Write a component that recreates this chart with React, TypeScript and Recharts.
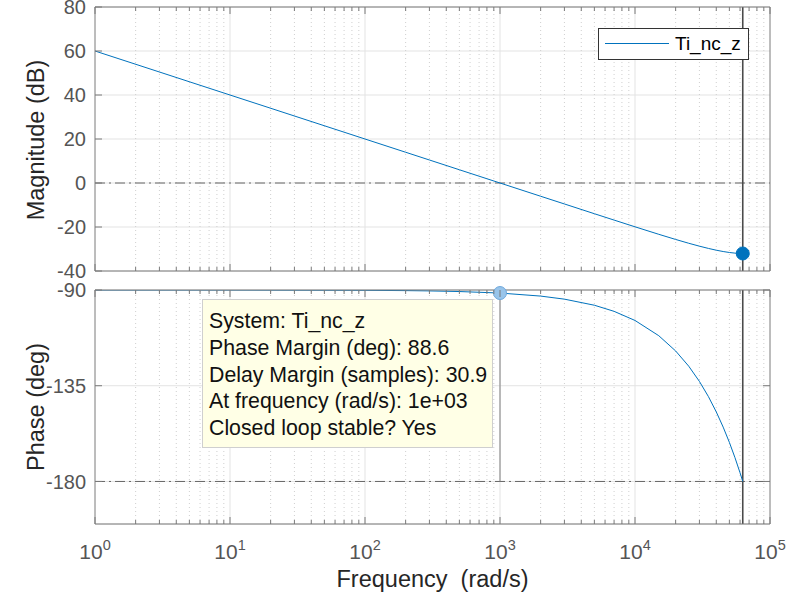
import React from 'react';
import { LineChart, Line, XAxis, YAxis, CartesianGrid, ReferenceLine, ReferenceDot } from 'recharts';

// Frequency (rad/s)
const frequencies = [1, 10, 100, 200, 300, 500, 1000, 2000, 3000, 5000, 7000, 10000, 15000, 20000, 25000, 30000, 35000, 40000, 45000, 50000, 55000, 60000, 62832];
// Magnitude (dB)
const magnitudeDb = [60, 40, 20, 13.98, 10.46, 6.02, 0, -6.02, -9.53, -13.96, -16.86, -19.91, -23.32, -25.66, -27.39, -28.71, -29.74, -30.54, -31.15, -31.59, -31.87, -32.02, -32.04];
// Phase (deg)
const phaseDeg = [-90.0, -90.01, -90.14, -90.29, -90.43, -90.72, -91.43, -92.86, -94.3, -97.16, -100.03, -104.32, -111.49, -118.65, -125.81, -132.97, -140.13, -147.3, -154.46, -161.62, -168.78, -175.94, -180];

const majorXTicks = [1, 10, 100, 1000, 10000, 100000];
const decades = [1, 10, 100, 1000, 10000];
const minorXTicks: number[] = [];
decades.forEach((d) => {
  for (let m = 2; m <= 9; m++) minorXTicks.push(m * d);
});
const allXTicks = [...majorXTicks, ...minorXTicks].sort((a, b) => a - b);

const magTicks = [-40, -20, 0, 20, 40, 60, 80];
const phaseTicks = [-180, -135, -90];

const nyquist = 62832;
const pmFreq = 1000;
const pmPhase = -91.43;
const nyqMag = -32.04;

const legendLabel = 'Ti_nc_z';
const tipLines = [
  'System: Ti_nc_z',
  'Phase Margin (deg): 88.6',
  'Delay Margin (samples): 30.9',
  'At frequency (rad/s): 1e+03',
  'Closed loop stable? Yes',
];

const data = frequencies.map((f, i) => ({ f, mag: magnitudeDb[i], phase: phaseDeg[i] }));

const FONT = '"Liberation Sans", Arial, Helvetica, sans-serif';
const AXIS = '#7a7a7a';
const TICKTXT = '#555555';
const BLUE = '#0072BD';

const isMajor = (v: number) => Math.abs(Math.log10(v) - Math.round(Math.log10(v))) < 1e-9;

const BottomTick = (props: any) => {
  const { x, y, payload, showLabel } = props;
  const v = payload.value;
  const major = isMajor(v);
  const len = major ? 7 : 4;
  return (
    <g>
      <line x1={x} y1={y} x2={x} y2={y - len} stroke={AXIS} strokeWidth={1} />
      {showLabel && major ? (
        <text x={x} y={y + 35} textAnchor="middle" fill={TICKTXT} fontSize={21} fontFamily={FONT}>
          <tspan>10</tspan>
          <tspan dy={-9} fontSize={14.5}>{Math.round(Math.log10(v))}</tspan>
        </text>
      ) : null}
    </g>
  );
};

const TopTick = (props: any) => {
  const { x, y, payload } = props;
  const len = isMajor(payload.value) ? 7 : 4;
  return <line x1={x} y1={y} x2={x} y2={y + len} stroke={AXIS} strokeWidth={1} />;
};

const LeftTick = (props: any) => {
  const { x, y, payload } = props;
  return (
    <g>
      <line x1={x} y1={y} x2={x + 7} y2={y} stroke={AXIS} strokeWidth={1} />
      <text x={x - 9} y={y} dy="0.36em" textAnchor="end" fill={TICKTXT} fontSize={20} fontFamily={FONT}>
        {payload.value}
      </text>
    </g>
  );
};

const RightTick = (props: any) => {
  const { x, y } = props;
  return <line x1={x} y1={y} x2={x - 7} y2={y} stroke={AXIS} strokeWidth={1} />;
};

const gridLines = (yId: string) => [
  ...minorXTicks.map((v) => (
    <ReferenceLine key={'mi' + v} x={v} xAxisId="b" yAxisId={yId} stroke="#cfcfcf" strokeDasharray="1 3" strokeWidth={1} />
  )),
  ...majorXTicks.slice(1, 5).map((v) => (
    <ReferenceLine key={'ma' + v} x={v} xAxisId="b" yAxisId={yId} stroke="#e3e3e3" strokeWidth={1} />
  )),
];

const YLabel = (text: string, cy: number) => (props: any) => {
  const vb = props.viewBox;
  const x = vb.x + 9;
  return (
    <text x={x} y={cy} transform={`rotate(-90, ${x}, ${cy})`} textAnchor="middle" fill="#262626" fontSize={23.5} fontFamily={FONT}>
      {text}
    </text>
  );
};

const XLabel = (props: any) => {
  const vb = props.viewBox;
  return (
    <text x={vb.x + vb.width / 2} y={vb.y + 63} textAnchor="middle" fill="#262626" fontSize={23.5} fontFamily={FONT} style={{ whiteSpace: 'pre' }}>
      {'Frequency  (rad/s)'}
    </text>
  );
};

export default function App() {
  return (
    <div style={{ position: 'absolute', left: 0, top: 0, width: 787, height: 600, background: '#ffffff', fontFamily: FONT }}>
      {/* Magnitude */}
      <div style={{ position: 'absolute', left: 0, top: 0 }}>
        <LineChart width={787} height={290} data={data} margin={{ top: 5, right: 15, bottom: 17, left: 35 }}>
          <CartesianGrid xAxisId="b" yAxisId="l" vertical={false} stroke="#e3e3e3" />
          {gridLines('l')}
          <XAxis xAxisId="b" dataKey="f" type="number" scale="log" domain={[1, 100000]} allowDataOverflow ticks={allXTicks} interval={0}
            orientation="bottom" height={2} tickSize={0} tickMargin={0} tickLine={false} stroke={AXIS} tick={<BottomTick showLabel={false} />} />
          <XAxis xAxisId="t" dataKey="f" type="number" scale="log" domain={[1, 100000]} allowDataOverflow ticks={allXTicks} interval={0}
            orientation="top" height={2} tickSize={0} tickMargin={0} tickLine={false} stroke={AXIS} tick={<TopTick />} />
          <YAxis yAxisId="l" type="number" domain={[-40, 80]} ticks={magTicks} interval={0} width={60} tickSize={0} tickMargin={0}
            tickLine={false} stroke={AXIS} tick={<LeftTick />} label={YLabel('Magnitude (dB)', 140)} />
          <YAxis yAxisId="r" orientation="right" type="number" domain={[-40, 80]} ticks={magTicks} interval={0} width={2} tickSize={0}
            tickMargin={0} tickLine={false} stroke={AXIS} tick={<RightTick />} />
          <ReferenceLine y={0} xAxisId="b" yAxisId="l" stroke="#666666" strokeDasharray="10 4 2 4" strokeWidth={1} />
          <ReferenceLine x={nyquist} xAxisId="b" yAxisId="l" stroke="#4a4a4a" strokeWidth={1.6} />
          <Line xAxisId="b" yAxisId="l" type="linear" dataKey="mag" stroke={BLUE} strokeWidth={1} dot={false} isAnimationActive={false} />
          <ReferenceDot x={nyquist} y={nyqMag} xAxisId="b" yAxisId="l" r={6.5} fill={BLUE} stroke={BLUE} />
        </LineChart>
      </div>
      {/* Phase */}
      <div style={{ position: 'absolute', left: 0, top: 280 }}>
        <LineChart width={787} height={320} data={data} margin={{ top: 8, right: 15, bottom: 26, left: 35 }}>
          <CartesianGrid xAxisId="b" yAxisId="l" vertical={false} stroke="#e3e3e3" />
          {gridLines('l')}
          <XAxis xAxisId="b" dataKey="f" type="number" scale="log" domain={[1, 100000]} allowDataOverflow ticks={allXTicks} interval={0}
            orientation="bottom" height={50} tickSize={0} tickMargin={0} tickLine={false} stroke={AXIS} tick={<BottomTick showLabel={true} />}
            label={XLabel} />
          <XAxis xAxisId="t" dataKey="f" type="number" scale="log" domain={[1, 100000]} allowDataOverflow ticks={allXTicks} interval={0}
            orientation="top" height={2} tickSize={0} tickMargin={0} tickLine={false} stroke={AXIS} tick={<TopTick />} />
          <YAxis yAxisId="l" type="number" domain={[-200, -90]} allowDataOverflow ticks={phaseTicks} interval={0} width={60} tickSize={0}
            tickMargin={0} tickLine={false} stroke={AXIS} tick={<LeftTick />} label={YLabel('Phase (deg)', 127)} />
          <YAxis yAxisId="r" orientation="right" type="number" domain={[-200, -90]} allowDataOverflow ticks={phaseTicks} interval={0} width={2}
            tickSize={0} tickMargin={0} tickLine={false} stroke={AXIS} tick={<RightTick />} />
          <ReferenceLine y={-180} xAxisId="b" yAxisId="l" stroke="#666666" strokeDasharray="10 4 2 4" strokeWidth={1} />
          <ReferenceLine x={nyquist} xAxisId="b" yAxisId="l" stroke="#4a4a4a" strokeWidth={1.6} />
          <ReferenceLine xAxisId="b" yAxisId="l" segment={[{ x: pmFreq, y: pmPhase }, { x: pmFreq, y: -180 }]} stroke="#808080" strokeWidth={1} />
          <Line xAxisId="b" yAxisId="l" type="linear" dataKey="phase" stroke={BLUE} strokeWidth={1} dot={false} isAnimationActive={false} />
          <ReferenceDot x={pmFreq} y={pmPhase} xAxisId="b" yAxisId="l" r={6.5} fill="#98c4ea" stroke="#6fa8dc" strokeWidth={1} />
        </LineChart>
      </div>
      {/* Legend */}
      <div style={{ position: 'absolute', left: 598, top: 28, width: 151, height: 32, boxSizing: 'border-box', border: '1px solid #333333', background: '#ffffff' }}>
        <div style={{ position: 'absolute', left: 6, top: 14, width: 64, height: 0, borderTop: `1px solid ${BLUE}` }} />
        <div style={{ position: 'absolute', left: 76, top: 3, fontSize: 19, lineHeight: '24px', color: '#000000', fontFamily: FONT }}>{legendLabel}</div>
      </div>
      {/* Data tip */}
      <div style={{ position: 'absolute', left: 202, top: 299, width: 291, height: 149, boxSizing: 'border-box', border: '1px solid #cfcfcf',
        background: '#ffffe6', padding: '8px 0 0 6px', fontSize: 21.3, lineHeight: '26.8px', color: '#111111', fontFamily: FONT, whiteSpace: 'nowrap' }}>
        {tipLines.map((t) => (<div key={t}>{t}</div>))}
      </div>
    </div>
  );
}
